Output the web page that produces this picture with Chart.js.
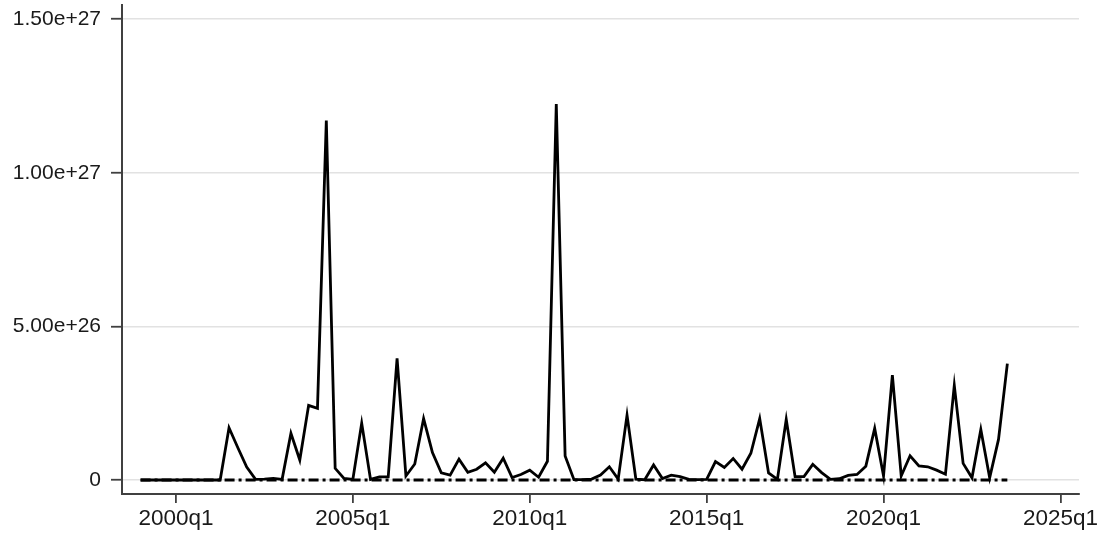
<!DOCTYPE html>
<html>
<head>
<meta charset="utf-8">
<script src="https://cdn.jsdelivr.net/npm/chart.js@4"></script>
<style>
  html, body { margin: 0; padding: 0; background: #ffffff; }
  #wrap { width: 1101px; height: 535px; }
</style>
</head>
<body>
<div id="wrap"><canvas id="c" width="1101" height="535"></canvas></div>
<script>
// Quarterly series, 1999q1 .. 2023q3 (99 quarters)
const startYear = 1999;
const mainSeries = [
  0, 0, 0, 0, 0, 0, 0, 0, 0, 0,
  1.70e26, 1.05e26, 0.42e26, 0.02e26, 0.03e26, 0.05e26, 0.02e26, 1.52e26, 0.65e26, 2.43e26,
  2.33e26, 11.70e26, 0.38e26, 0.05e26, 0.02e26, 1.85e26, 0.02e26, 0.10e26, 0.10e26, 3.96e26,
  0.13e26, 0.52e26, 2.00e26, 0.89e26, 0.23e26, 0.16e26, 0.68e26, 0.25e26, 0.35e26, 0.56e26,
  0.25e26, 0.71e26, 0.08e26, 0.18e26, 0.32e26, 0.09e26, 0.61e26, 12.24e26, 0.78e26, 0.01e26,
  0.01e26, 0.03e26, 0.16e26, 0.43e26, 0.03e26, 2.11e26, 0.03e26, 0.01e26, 0.49e26, 0.05e26,
  0.16e26, 0.11e26, 0.02e26, 0.01e26, 0.02e26, 0.60e26, 0.41e26, 0.70e26, 0.35e26, 0.87e26,
  2.00e26, 0.23e26, 0.02e26, 1.97e26, 0.11e26, 0.11e26, 0.51e26, 0.24e26, 0.02e26, 0.04e26,
  0.15e26, 0.18e26, 0.45e26, 1.68e26, 0.13e26, 3.41e26, 0.13e26, 0.79e26, 0.46e26, 0.43e26,
  0.32e26, 0.19e26, 3.08e26, 0.54e26, 0.07e26, 1.64e26, 0.07e26, 1.32e26, 3.79e26
];
const secondSeries = [
  0, 0, 0, 0, 0, 0, 0, 0, 0, 0,
  0, 0, 0, 0, 0, 0, 0, 0, 0, 0,
  0, 0, 0, 0, 0, 0, 0, 0, 0, 0,
  0, 0, 0, 0, 0, 0, 0, 0, 0, 0,
  0, 0, 0, 0, 0, 0, 0, 0, 0, 0,
  0, 0, 0, 0, 0, 0, 0, 0, 0, 0,
  0, 0, 0, 0, 0, 0, 0, 0, 0, 0,
  0, 0, 0, 0, 0, 0, 0, 0, 0, 0,
  0, 0, 0, 0, 0, 0, 0, 0, 0, 0,
  0, 0, 0, 0, 0, 0, 0, 0, 0
];
// Tick positions are quarter offsets from 1999q1
const xTickValues = [4, 24, 44, 64, 84, 104];
const xTickLabels = ['2000q1', '2005q1', '2010q1', '2015q1', '2020q1', '2025q1'];
const yTickValues = [0, 5e26, 1e27, 1.5e27];
const yTickLabels = ['0', '5.00e+26', '1.00e+27', '1.50e+27'];

const quarterLabels = mainSeries.map((_, i) => (startYear + Math.floor(i / 4)) + 'q' + (i % 4 + 1));
const toPoints = arr => arr.map((v, i) => ({ x: i, y: v }));

const FONT = "'Liberation Sans', Arial, Helvetica, sans-serif";
const AXIS = '#404040';

new Chart(document.getElementById('c'), {
  type: 'line',
  data: {
    labels: quarterLabels,
    datasets: [
      {
        label: 'series 1',
        data: toPoints(mainSeries),
        borderColor: '#000000',
        borderWidth: 2.8,
        pointRadius: 0,
        tension: 0,
        fill: false
      },
      {
        label: 'series 2',
        data: toPoints(secondSeries),
        borderColor: '#000000',
        borderWidth: 2.8,
        borderDash: [10, 4, 3, 4],
        pointRadius: 0,
        tension: 0,
        fill: false
      }
    ]
  },
  options: {
    responsive: false,
    animation: false,
    devicePixelRatio: 1,
    layout: { padding: { top: 5, right: 22, left: 0, bottom: 0 } },
    plugins: { legend: { display: false }, tooltip: { enabled: false } },
    scales: {
      x: {
        type: 'linear',
        min: -2.1,
        max: 106.1,
        afterBuildTicks: s => { s.ticks = xTickValues.map(v => ({ value: v })); },
        afterFit: s => { s.height = 41; s.paddingLeft = 0; s.paddingRight = 0; },
        ticks: {
          autoSkip: false,
          maxRotation: 0,
          padding: 2,
          color: '#1a1a1a',
          font: { family: FONT, size: 22.5 },
          callback: v => xTickLabels[xTickValues.indexOf(v)]
        },
        grid: { drawOnChartArea: false, drawTicks: true, tickLength: 9, color: AXIS, lineWidth: 1.8 },
        border: { display: true, color: AXIS, width: 2 }
      },
      y: {
        type: 'linear',
        min: -0.456e26,
        max: 15.46e26,
        afterBuildTicks: s => { s.ticks = yTickValues.map(v => ({ value: v })); },
        afterFit: s => { s.width = 122; s.paddingTop = 0; s.paddingBottom = 0; },
        ticks: {
          autoSkip: false,
          padding: 10,
          color: '#1a1a1a',
          font: { family: FONT, size: 21 },
          callback: v => yTickLabels[yTickValues.indexOf(v)]
        },
        grid: {
          drawOnChartArea: true, drawTicks: true, tickLength: 11,
          color: '#e2e2e2', lineWidth: 1.5, tickColor: AXIS, tickWidth: 1.8
        },
        border: { display: true, color: AXIS, width: 2 }
      }
    }
  }
});
</script>
</body>
</html>
